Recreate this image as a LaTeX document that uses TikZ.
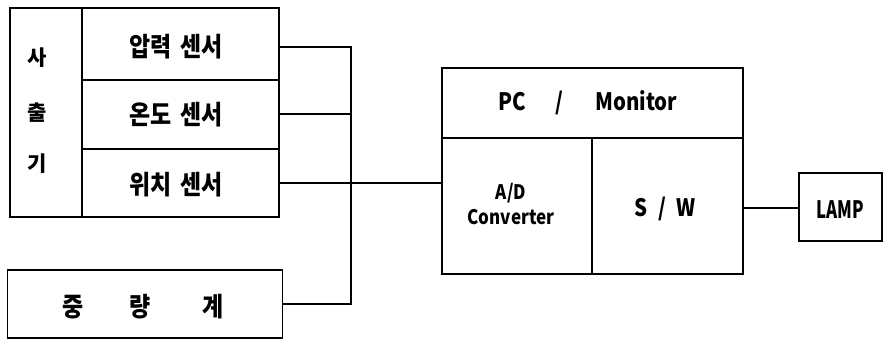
\documentclass[tikz,border=0pt]{standalone}
\usepackage{fontspec}
\setmainfont{Noto Sans CJK KR}
\usetikzlibrary{calc}
\begin{document}
\begin{tikzpicture}[x=1pt,y=-1pt,
  box/.style={draw,line width=1.8pt,inner sep=0pt,anchor=center,font=\bfseries},
  wire/.style={line width=1.6pt},
  kr/.style={font=\fontsize{27}{27}\selectfont\bfseries,inner sep=0pt},
  krs/.style={font=\fontsize{21}{21}\selectfont\bfseries,inner sep=0pt},
  lat/.style={font=\fontsize{24}{24}\selectfont\bfseries,inner sep=0pt,align=center}]
\useasboundingbox (0,0) rectangle (884,341);
% left block
\node[box,minimum width=72pt,minimum height=209pt] (col) at (46,112.5) {};
\node[box,minimum width=197pt,minimum height=72pt] (s1) at (180.5,44) {};
\node[box,minimum width=197pt,minimum height=69pt] (s2) at (180.5,114.5) {};
\node[box,minimum width=197pt,minimum height=68pt] (s3) at (180.5,183) {};
\node[kr,scale=0.85] (t1) at (176,47) {\scalebox{1}[1.15]{압력\hspace{10pt}센서}};
\node[kr,scale=0.85] (t2) at (176,115) {\scalebox{1}[1.15]{온도\hspace{10pt}센서}};
\node[kr,scale=0.85] (t3) at (176,185) {\scalebox{1}[1.15]{위치\hspace{10pt}센서}};
\node[krs] (c1) at (37,58) {사};
\node[krs] (c2) at (37,113) {출};
\node[krs] (c3) at (37,164) {기};
% weight
\node[box,minimum width=275pt,minimum height=68pt] (w) at (145,304) {};
\node[kr,scale=0.85] (w1) at (73,307) {\scalebox{1}[1.15]{중}};
\node[kr,scale=0.85] (w2) at (140,307) {\scalebox{1}[1.15]{량}};
\node[kr,scale=0.85] (w3) at (213,307) {\scalebox{1}[1.15]{계}};
% PC block
\node[box,minimum width=301pt,minimum height=70pt] (pc) at (592.5,103) {};
\node[box,minimum width=150pt,minimum height=136pt] (adc) at (517,206) {};
\node[box,minimum width=151pt,minimum height=136pt] (sw) at (667.5,206) {};
\node[lat] (pct) at (588,103) {\scalebox{0.85}[1]{PC\hspace{34pt}/\hspace{38pt}Monitor}};
\node[lat,font=\fontsize{20}{25}\selectfont\bfseries] (adt) at (511,204) {\scalebox{0.85}[1]{A/D}\\\scalebox{0.85}[1]{Converter}};
\node[lat] (swt) at (665,209) {\scalebox{0.85}[1]{S\hspace{12pt}/\hspace{12pt}W}};
% lamp
\node[box,minimum width=83pt,minimum height=68pt] (lamp) at (840.5,207) {};
\node[lat] (lt) at (840,210) {\scalebox{0.7}[1]{LAMP}};
% wiring
\coordinate (bt) at (351,47);
\coordinate (bb) at (351,304);
\draw[wire] ([yshift=-3pt]s1.east) -- (bt) -- (bb) -- (w.east);
\draw[wire] ([yshift=0.5pt]s2.east) -- ([yshift=0.5pt]s2.east -| bt);
\draw[wire] (s3.east) -- (s3.east -| adc.west);
\draw[wire] ([yshift=-2pt]sw.east) -- ([yshift=-2pt]sw.east -| lamp.west);
\end{tikzpicture}
\end{document}
